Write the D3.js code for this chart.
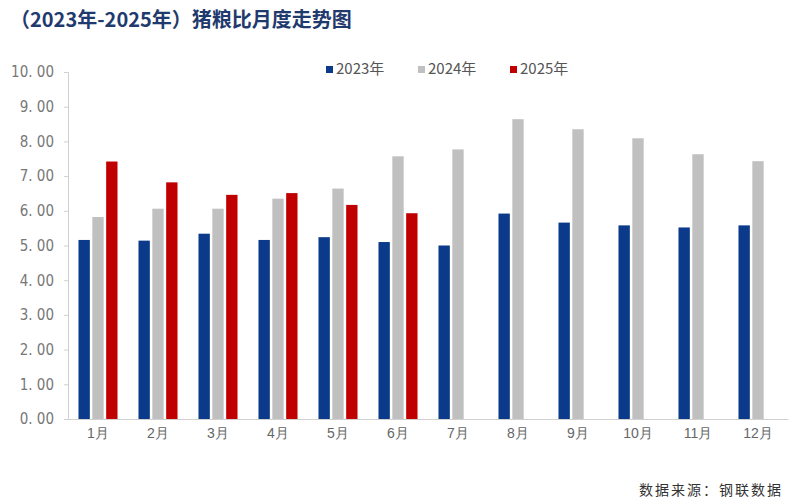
<!DOCTYPE html>
<html><head><meta charset="utf-8">
<script src="https://cdn.jsdelivr.net/npm/d3@7"></script>
<style>body{margin:0;background:#fff;font-family:"Noto Sans CJK SC","Noto Sans",sans-serif;}</style>
</head><body><div id="chart"></div>
<script>
const months = ['1月','2月','3月','4月','5月','6月','7月','8月','9月','10月','11月','12月'];
const series = ['2023年','2024年','2025年'];
const colors = ['#0b3a8a','#c0c0c0','#c00000'];
const v2023 = [5.16,5.14,5.34,5.16,5.24,5.10,5.00,5.92,5.66,5.58,5.52,5.58];
const v2024 = [5.82,6.06,6.06,6.35,6.64,7.57,7.77,8.64,8.35,8.09,7.63,7.43];
const v2025 = [7.42,6.82,6.46,6.51,6.17,5.93];
const yTicks = [0,1,2,3,4,5,6,7,8,9,10];

const W = 800, H = 504;
const svg = d3.select('#chart').append('svg').attr('width', W).attr('height', H);

svg.append('text').attr('x', 10).attr('y', 27)
  .attr('fill', '#1f3a6e').attr('font-size', 20).attr('font-weight', 'bold')
  .text('（2023年-2025年）猪粮比月度走势图');

const x = d3.scaleBand().domain(months).range([68, 788]).paddingInner(0);
const y = d3.scaleLinear().domain([0, 10]).range([419, 72]);
const inner = d3.scaleBand().domain(series).range([0, 44]).padding(0.18);

// y axis
const ya = svg.append('g').attr('transform', 'translate(68,0)')
  .call(d3.axisLeft(y).tickValues(yTicks).tickFormat(d => d3.format('.2f')(d).replace('.', '. ')).tickSize(4));
ya.select('.domain').attr('stroke', '#d0d0d0');
ya.selectAll('.tick line').attr('stroke', '#d0d0d0');
ya.selectAll('text').attr('fill', '#777').attr('font-size', 15).attr('x', -14)
  .attr('font-family', '"Liberation Sans Narrow","DejaVu Sans Condensed",sans-serif');

// x axis
const xa = svg.append('g').attr('transform', 'translate(0,419)')
  .call(d3.axisBottom(x).tickSize(0));
xa.select('.domain').attr('stroke', '#d0d0d0');
xa.selectAll('text').attr('fill', '#666').attr('font-size', 14).attr('dy', 16);

const data = [v2023, v2024, v2025];
data.forEach((vals, si) => {
  svg.append('g').selectAll('rect').data(vals).enter().append('rect')
    .attr('fill', colors[si])
    .attr('x', (d, i) => x(months[i]) + (x.bandwidth() - 44) / 2 + inner(series[si]))
    .attr('width', inner.bandwidth())
    .attr('y', d => y(d))
    .attr('height', d => y(0) - y(d));
});

// legend
const lg = svg.append('g').attr('transform', 'translate(326,72)');
series.forEach((s, i) => {
  const g = lg.append('g').attr('transform', `translate(${i * 92},0)`);
  g.append('rect').attr('x', 0).attr('y', -6).attr('width', 7).attr('height', 7).attr('fill', colors[i]);
  g.append('text').attr('x', 10).attr('y', 2).attr('fill', '#555').attr('font-size', 15).text(s);
});

svg.append('text').attr('x', 783).attr('y', 495).attr('text-anchor', 'end')
  .attr('fill', '#333').attr('font-size', 14).attr('letter-spacing', 2).text('数据来源：钢联数据');
</script></body></html>
